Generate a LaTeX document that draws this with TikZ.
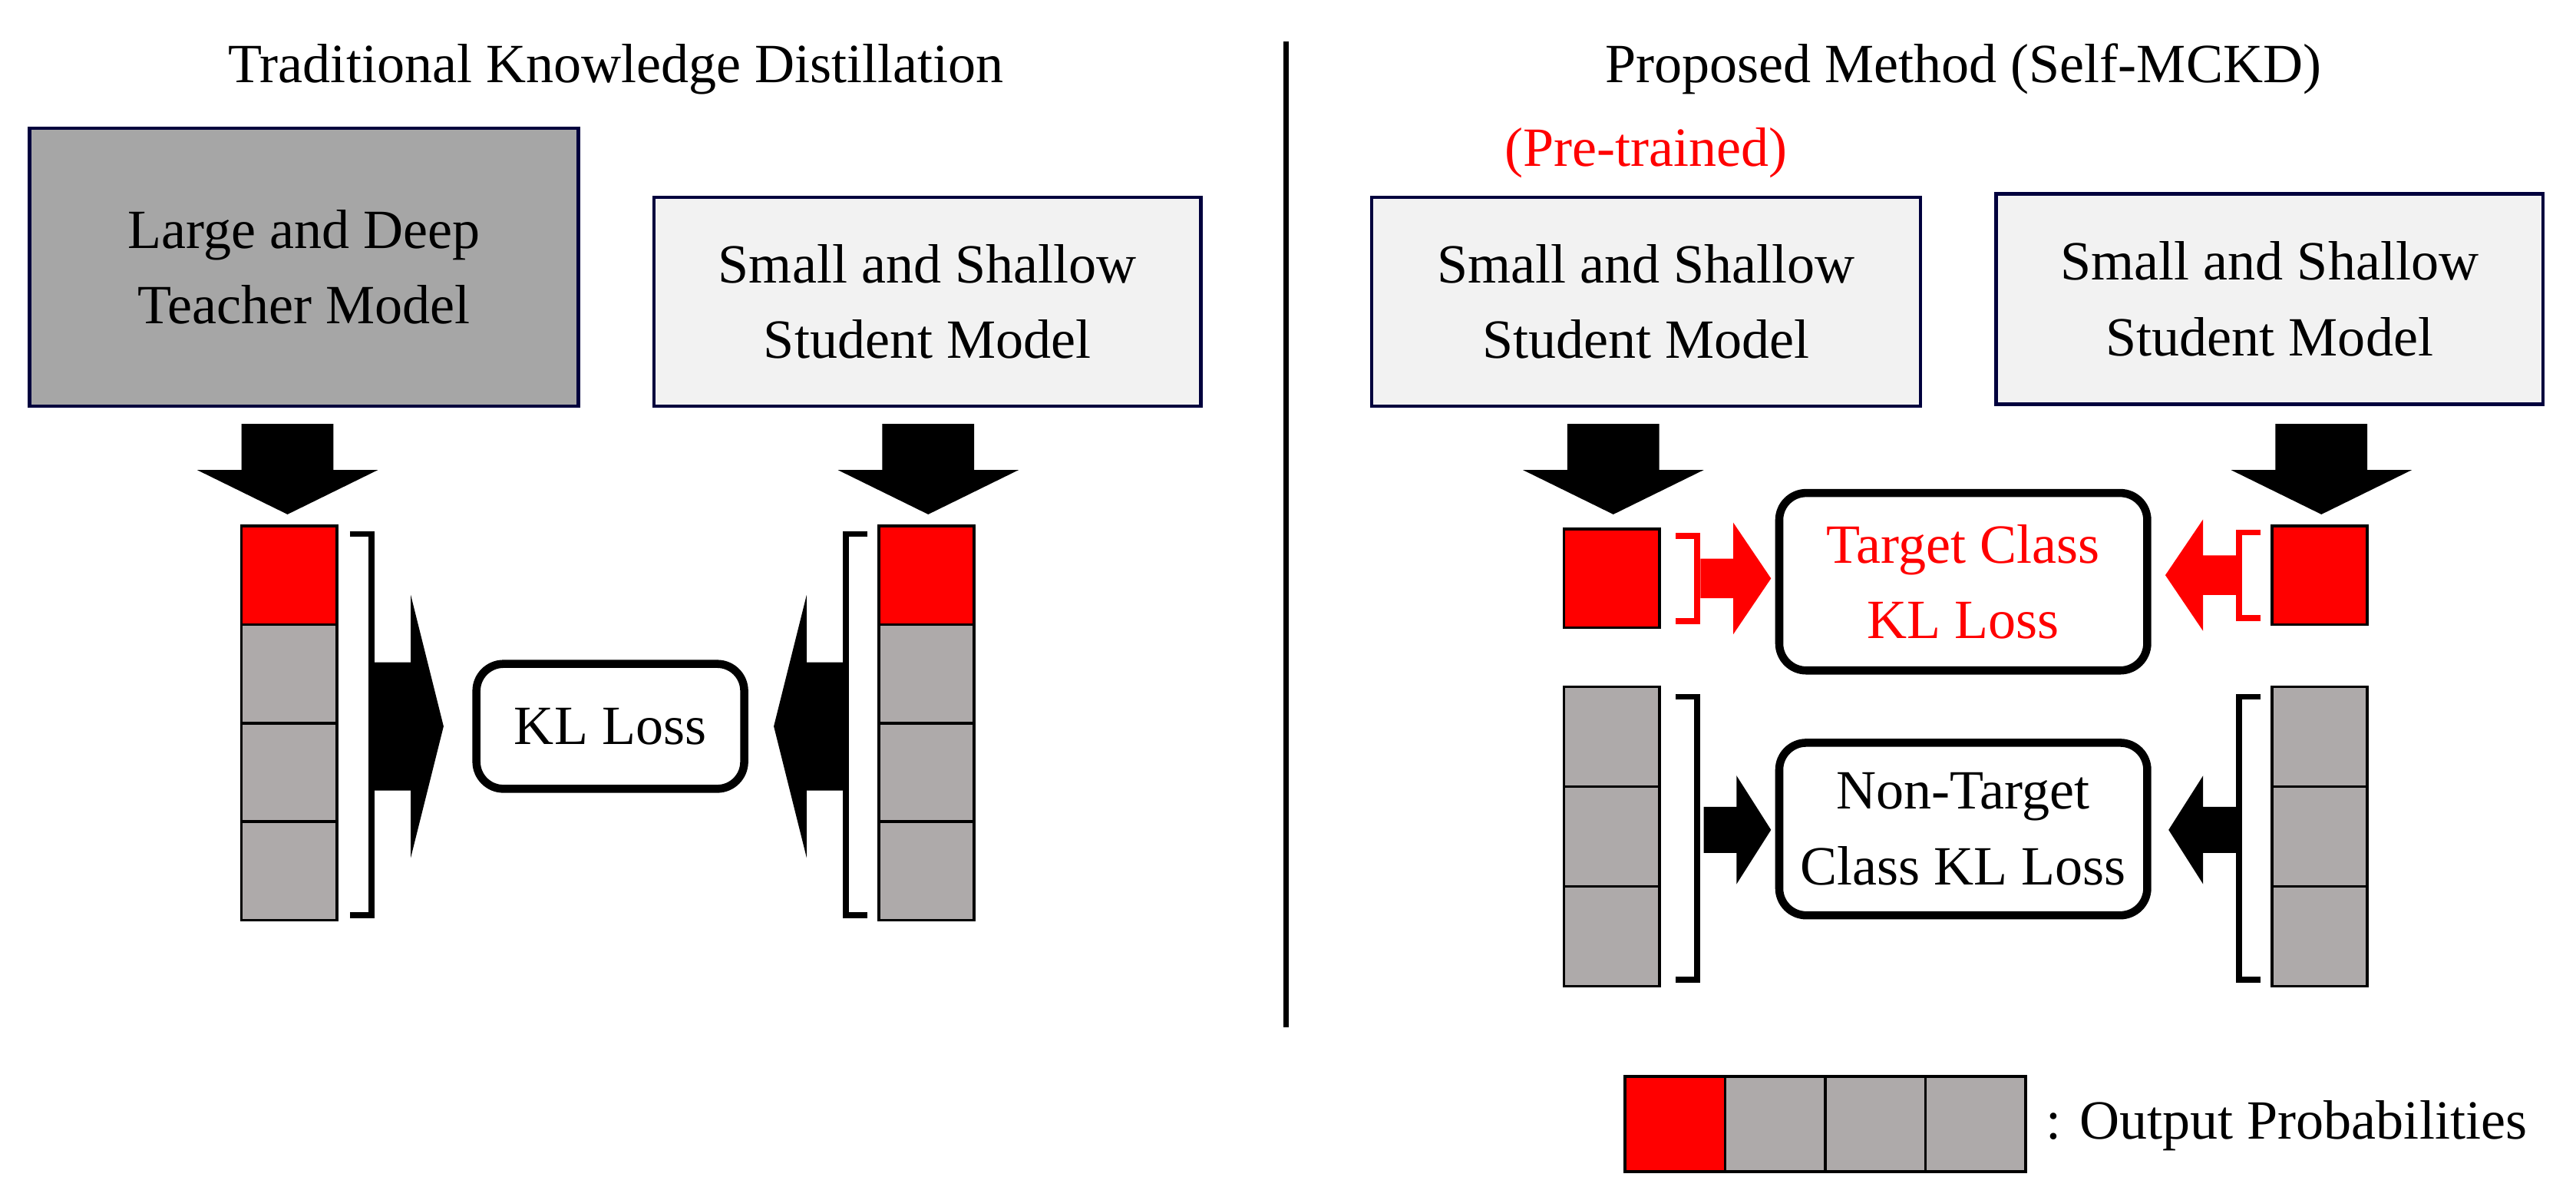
\documentclass[tikz,border=0pt]{standalone}
\usepackage{fontspec}
\setmainfont{Liberation Serif}
\begin{document}
\begin{tikzpicture}[x=0.0214cm,y=-0.0214cm,
  txt/.style={font=\fontsize{20.5}{24}\selectfont},
  model/.style={draw=black!70!blue!80!black,line width=1.2pt,align=center,txt,inner sep=0},
  loss/.style={draw=black,line width=3pt,rounded corners=10pt,fill=white,align=center,txt,inner sep=0},
  cell/.style={draw=black,line width=1pt,fill=cgray},
  rcell/.style={draw=black,line width=1pt,fill=red},
  brk/.style={line width=2.2pt},
]
\definecolor{cgray}{HTML}{AEAAAA}
\definecolor{tgray}{HTML}{A6A6A6}
\definecolor{lgray}{HTML}{F2F2F2}
\useasboundingbox (0,0) rectangle (1568,722);
% titles
\node[txt] (t1) at (375,42) {Traditional Knowledge Distillation};
\node[txt] (t2) at (1195,42) {Proposed Method (Self-MCKD)};
\draw[line width=2pt] (783,25) -- (783,625);
% models
\node[model,fill=tgray,minimum width=334*0.0214cm,minimum height=169*0.0214cm] (teach) at (185,162.5) {Large and Deep\\[4pt]Teacher Model};
\node[model,fill=lgray,minimum width=333*0.0214cm,minimum height=127*0.0214cm] (s1) at (564.5,183.5) {Small and Shallow\\[4pt]Student Model};
\node[model,fill=lgray,minimum width=334*0.0214cm,minimum height=127*0.0214cm] (s2) at (1002,183.5) {Small and Shallow\\[4pt]Student Model};
\node[model,fill=lgray,minimum width=333*0.0214cm,minimum height=128*0.0214cm] (s3) at (1381.5,182) {Small and Shallow\\[4pt]Student Model};
\node[txt,text=red] (pre) at (1002,93) {(Pre-trained)};
% down arrows
\foreach \c in {175,565,982,1413}{
  \fill (\c-28,258) -- (\c+28,258) -- (\c+28,286) -- (\c+55,286) -- (\c,313) -- (\c-55,286) -- (\c-28,286) -- cycle;
}
% left columns
\foreach \xa/\n in {147/a,535/b}{
  \draw[rcell] (\xa,320) rectangle (\xa+58,380);
  \foreach \k in {0,1,2}{\draw[cell] (\xa,380+\k*60) rectangle (\xa+58,440+\k*60);}
}
\draw[brk] (213,325) -- (226,325) -- (226,557) -- (213,557);
\draw[brk] (528,325) -- (515,325) -- (515,557) -- (528,557);
\node[loss,minimum width=163*0.0214cm,minimum height=76*0.0214cm] (kl) at (371.5,442) {KL Loss};
\fill (228,403) -- (250,403) -- (250,362) -- (270,442) -- (250,522) -- (250,481) -- (228,481) -- cycle;
\fill (513,403) -- (491,403) -- (491,362) -- (471,442) -- (491,522) -- (491,481) -- (513,481) -- cycle;
% right top
\node[loss,text=red,minimum width=224*0.0214cm,minimum height=108*0.0214cm] (tc) at (1195,354) {Target Class\\[4pt]KL Loss};
\draw[rcell] (952,322) rectangle (1010,382);
\draw[rcell] (1383,320) rectangle (1441,380);
\draw[brk,red] (1020,326) -- (1033,326) -- (1033,378) -- (1020,378);
\draw[brk,red] (1376,324) -- (1363,324) -- (1363,376) -- (1376,376);
\fill[red] (1035,340) -- (1055,340) -- (1055,318) -- (1078,352) -- (1055,386) -- (1055,364) -- (1035,364) -- cycle;
\fill[red] (1361,338) -- (1341,338) -- (1341,316) -- (1318,350) -- (1341,384) -- (1341,362) -- (1361,362) -- cycle;
% right bottom
\node[loss,minimum width=224*0.0214cm,minimum height=105*0.0214cm] (nt) at (1195,504.5) {Non-Target\\[4pt]Class KL Loss};
\foreach \xa in {952,1383}{
  \foreach \k in {0,1,2}{\draw[cell] (\xa,418+\k*60.7) rectangle (\xa+58,478.7+\k*60.7);}
}
\draw[brk] (1020,424) -- (1033,424) -- (1033,596) -- (1020,596);
\draw[brk] (1376,424) -- (1363,424) -- (1363,596) -- (1376,596);
\fill (1037,491) -- (1057,491) -- (1057,472) -- (1078,505) -- (1057,538) -- (1057,519) -- (1037,519) -- cycle;
\fill (1361,491) -- (1341,491) -- (1341,472) -- (1320,505) -- (1341,538) -- (1341,519) -- (1361,519) -- cycle;
% legend
\draw[rcell] (989,655) rectangle (1050,713);
\foreach \k in {1,2,3}{\draw[cell] (989+\k*61,655) rectangle (1050+\k*61,713);}
\node[txt,anchor=west,inner sep=0] (leg) at (1245,685) {: Output Probabilities};
\end{tikzpicture}
\end{document}
